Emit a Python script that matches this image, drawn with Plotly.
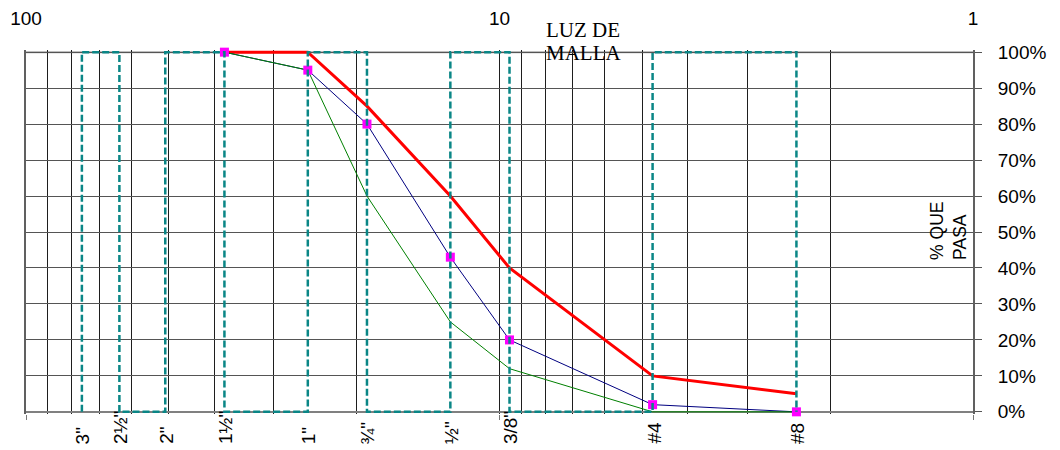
import math
import plotly.graph_objects as go

# Sieve openings (mm) and their names along the bottom
sieve_mm = [76.2, 63.5, 50.8, 38.1, 25.4, 19.05, 12.7, 9.525, 4.75, 2.36]
sieve_names = ['3"', '2½"', '2"', '1½"', '1"', '¾"', '½"', '3/8"', '#4', '#8']

# Gradation curves (sieves from 1½" down to #8), % passing
curve_mm = [38.1, 25.4, 19.05, 12.7, 9.525, 4.75, 2.36]
upper_limit = [100, 100, 85, 60, 40, 10, 5]
lower_limit = [100, 95, 60, 25, 12, 0, 0]
sample_passing = [100, 95, 80, 43, 20, 2, 0]

# Axis ticks
decade_ticks = [100, 10, 1]
decade_labels = ['100', '10', '1']
minor_ticks = [90, 80, 70, 60, 50, 40, 30, 20, 9, 8, 7, 6, 5, 4, 3, 2]
pct_ticks = [0, 10, 20, 30, 40, 50, 60, 70, 80, 90, 100]
pct_labels = [f"{p}%" for p in pct_ticks]

SANS = "Liberation Sans, Arial, sans-serif"
SERIF = "Liberation Serif, Times New Roman, serif"

# Dashed frame: verticals at each sieve, alternately joined at top and bottom
frame_x, frame_y = [], []
for i, s in enumerate(sieve_mm):
    frame_x += [s, s]
    frame_y += [0, 1] if i % 2 == 0 else [1, 0]

fig = go.Figure()
fig.add_trace(go.Scatter(
    x=frame_x, y=frame_y, mode="lines", xaxis="x2",
    line=dict(color="#0a8686", width=2.5, dash="7px,3px"),
    hoverinfo="skip", showlegend=False))
fig.add_trace(go.Scatter(
    x=curve_mm, y=[v / 100 for v in upper_limit], mode="lines",
    line=dict(color="#ff0000", width=3), showlegend=False))
fig.add_trace(go.Scatter(
    x=curve_mm, y=[v / 100 for v in sample_passing], mode="lines",
    line=dict(color="#000080", width=1), showlegend=False))
fig.add_trace(go.Scatter(
    x=curve_mm, y=[v / 100 for v in lower_limit], mode="lines",
    line=dict(color="#008000", width=1), showlegend=False))
fig.add_trace(go.Scatter(
    x=curve_mm, y=[v / 100 for v in sample_passing], mode="markers",
    marker=dict(symbol="square", size=9, color="#ff00ff"),
    cliponaxis=False, showlegend=False))

annotations = []
for s, name in zip(sieve_mm, sieve_names):
    annotations.append(dict(
        x=math.log10(s), xref="x", y=-0.088, yref="paper",
        text=name, textangle=-90, showarrow=False, xshift=1,
        xanchor="center", yanchor="bottom",
        font=dict(family=SANS, size=19, color="#000")))
annotations += [
    dict(x=0.5465, xref="paper", y=1.093, yref="paper", text="LUZ DE",
         showarrow=False, xanchor="left", yanchor="top",
         font=dict(family=SERIF, size=21, color="#000")),
    dict(x=0.5465, xref="paper", y=1.029, yref="paper", text="MALLA",
         showarrow=False, xanchor="left", yanchor="top",
         font=dict(family=SERIF, size=21, color="#000")),
    dict(x=0.9747, xref="paper", y=0.418, yref="paper", text="% QUE<br>PASA",
         textangle=-90, showarrow=False, align="left",
         xanchor="center", yanchor="bottom",
         font=dict(family=SANS, size=17.5, color="#000")),
]

fig.update_layout(
    width=1060, height=450,
    margin=dict(l=26, r=87, t=50, b=36, autoexpand=False),
    paper_bgcolor="white", plot_bgcolor="white",
    showlegend=False,
    xaxis=dict(
        type="log", range=[2, 0], autorange=False, side="top",
        automargin=False,
        tickvals=decade_ticks, ticktext=decade_labels,
        ticks="outside", ticklen=16, tickcolor="rgba(0,0,0,0)",
        tickfont=dict(family=SANS, size=19, color="#000"),
        showgrid=True, gridcolor="#1e1e1e", gridwidth=1,
        minor=dict(tickvals=minor_ticks, showgrid=True,
                   gridcolor="#1e1e1e", gridwidth=1, ticks=""),
        showline=False, zeroline=False),
    xaxis2=dict(
        type="log", range=[2, 0], autorange=False, overlaying="x",
        side="bottom", anchor="y", automargin=False,
        tickvals=decade_ticks, ticks="outside", ticklen=5,
        tickcolor="#777", tickwidth=1, showticklabels=False,
        showgrid=False, showline=False, zeroline=False),
    yaxis=dict(
        side="right", range=[-0.006, 1.006], autorange=False,
        automargin=False,
        tickvals=[p / 100 for p in pct_ticks], ticktext=pct_labels,
        ticks="outside", ticklen=7, tickcolor="#555", tickwidth=1,
        ticklabelstandoff=12,
        tickfont=dict(family=SANS, size=19, color="#000"),
        showgrid=True, gridcolor="#555", gridwidth=1.2,
        showline=True, linecolor="#606060", linewidth=2, mirror=True,
        zeroline=True, zerolinecolor="#808080", zerolinewidth=2),
    shapes=[dict(type="line", xref="paper", yref="y", x0=0, x1=1, y0=1, y1=1,
                 line=dict(color="#a8a8a8", width=2), layer="between")],
    annotations=annotations,
)

fig.write_html("out.html")
